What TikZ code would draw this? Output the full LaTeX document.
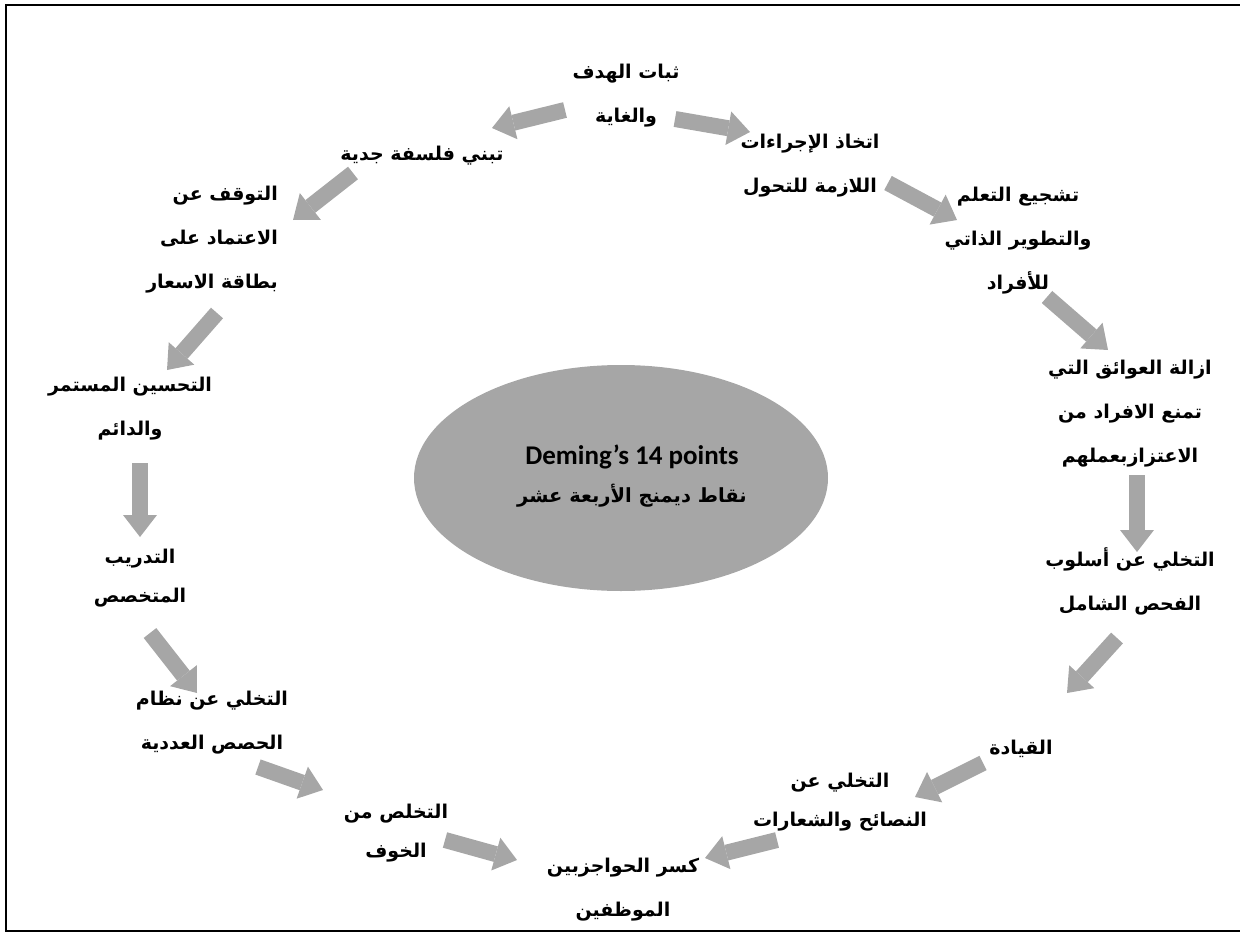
\documentclass[tikz,border=0pt]{standalone}
\usepackage{fontspec}
\usetikzlibrary{arrows.meta}
\TeXXeTstate=1
\newfontfamily\arabicfont[Script=Arabic]{DejaVu Sans}
\newfontfamily\latinfont{Carlito}
\newcommand\rl[1]{\beginR #1\endR}
\definecolor{blockgray}{HTML}{A6A6A6}

\begin{document}
\begin{tikzpicture}[x=1pt,y=-1pt,
  lbl/.style={align=center, inner sep=0pt,
    font=\arabicfont\bfseries\fontsize{19}{44}\selectfont},
  tight/.style={font=\arabicfont\bfseries\fontsize{19}{39}\selectfont},
  blk/.style={draw=blockgray, line width=16pt,
    -{Triangle[width=34pt,length=22pt,line width=0pt]}},
]
\useasboundingbox (0,0) rectangle (1240,934);

% frame, open on the right
\draw[line width=2pt] (1240,5) -- (6,5) -- (6,931) -- (1240,931);

% central ellipse
\fill[blockgray] (621,478) ellipse [x radius=207, y radius=113];
\node[align=center, inner sep=0pt, font=\fontsize{19}{38}\selectfont] (core) at (632,476)
  {{\latinfont\bfseries\fontsize{27}{38}\selectfont Deming’s 14 points}\\
   {\arabicfont\bfseries\fontsize{19.5}{38}\selectfont\rl{نقاط ديمنج الأربعة عشر}}};

% the fourteen points
\node[lbl] (p1)  at (626,96)  {\rl{ثبات الهدف}\\\rl{والغاية}};
\node[lbl] (p2)  at (422,156) {\rl{تبني فلسفة جدية}};
\node[lbl] (p3)  at (810,166) {\rl{اتخاذ الإجراءات}\\\rl{اللازمة للتحول}};
\node[lbl] (p4)  at (1018,241) {\rl{تشجيع التعلم}\\\rl{والتطوير الذاتي}\\\rl{للأفراد}};
\node[lbl] (p5)  at (1130,414) {\rl{ازالة العوائق التي}\\\rl{تمنع الافراد من}\\\rl{الاعتزازبعملهم}};
\node[lbl] (p6)  at (1130,581) {\rl{التخلي عن أسلوب}\\\rl{الفحص الشامل}};
\node[lbl] (p7)  at (1021,749) {\rl{القيادة}};
\node[lbl,tight] (p8) at (840,802) {\rl{التخلي عن}\\\rl{النصائح والشعارات}};
\node[lbl] (p9)  at (623,890) {\rl{كسر الحواجزبين}\\\rl{الموظفين}};
\node[lbl,tight] (p10) at (396,833) {\rl{التخلص من}\\\rl{الخوف}};
\node[lbl] (p11) at (212,723) {\rl{التخلي عن نظام}\\\rl{الحصص العددية}};
\node[lbl,tight] (p12) at (140,578) {\rl{التدريب}\\\rl{المتخصص}};
\node[lbl] (p13) at (130,409) {\rl{التحسين المستمر}\\\rl{والدائم}};
\node[lbl,align=right,anchor=east] (p14) at (278,240) {\rl{التوقف عن}\\\rl{الاعتماد على}\\\rl{بطاقة الاسعار}};

% arrow ends
\coordinate (a1s) at (565,110);  \coordinate (a1e) at (492,128);
\coordinate (a2s) at (675,119);  \coordinate (a2e) at (750,132);
\coordinate (a3s) at (888,183);  \coordinate (a3e) at (957,220);
\coordinate (a4s) at (1047,297); \coordinate (a4e) at (1108,350);
\coordinate (a5s) at (1137,475); \coordinate (a5e) at (1137,552);
\coordinate (a6s) at (1117,638); \coordinate (a6e) at (1067,693);
\coordinate (a7s) at (983,763);  \coordinate (a7e) at (915,797);
\coordinate (a8s) at (777,840);  \coordinate (a8e) at (705,858);
\coordinate (a9s) at (445,840);  \coordinate (a9e) at (517,860);
\coordinate (a10s) at (258,767); \coordinate (a10e) at (323,790);
\coordinate (a11s) at (150,633); \coordinate (a11e) at (197,693);
\coordinate (a12s) at (140,463); \coordinate (a12e) at (140,537);
\coordinate (a13s) at (217,313); \coordinate (a13e) at (167,370);
\coordinate (a14s) at (353,173); \coordinate (a14e) at (293,220);

% block arrows around the cycle
\foreach \i in {1,...,14}{
  \draw[blk] (a\i s) -- (a\i e);
}
\end{tikzpicture}
\end{document}
